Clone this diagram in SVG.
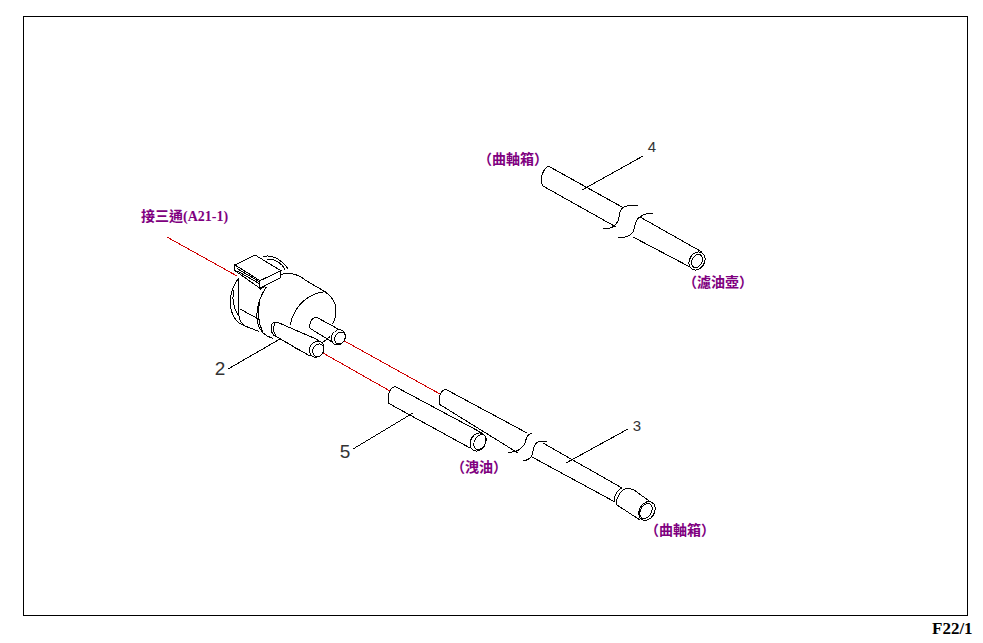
<svg xmlns="http://www.w3.org/2000/svg" width="983" height="643" viewBox="0 0 983 643">
<style>
.l{fill:none;stroke:#000;stroke-width:1;shape-rendering:crispEdges;vector-effect:non-scaling-stroke}
.w{fill:#fff;stroke:#000;stroke-width:1;shape-rendering:crispEdges;vector-effect:non-scaling-stroke}
.r{fill:none;stroke:#d00000;stroke-width:1;shape-rendering:crispEdges}
.p{font-family:"Liberation Serif","Noto Sans CJK TC",serif;font-weight:bold;font-size:14px;fill:#800080}
.n{font-family:"Liberation Sans",sans-serif;font-size:15px;fill:#333;text-anchor:middle}
.b{font-size:19px}
</style>
<rect width="983" height="643" fill="#fff"/>
<rect id="frame" class="l" x="23.5" y="16.5" width="944" height="599"/>
<g id="connectors">
<path class="r" d="M167 237L237 276M339 338L440 394M316 349L390 391"/>
<path class="l" d="M228 369L287 335M353 449L413 413M566 463L628 429M582 190L643 156"/>
</g>
<g id="part-2">
<g transform="translate(210 240) scale(.3333)">
<path class="l" d="M160 50C185 42 215 58 235 88M172 58C195 55 215 70 225 88"/>
<path class="l" d="M205 108C225 95 260 98 285 120L345 155C365 168 378 190 378 212C378 228 375 240 368 252"/>
<path class="l" d="M345 155C300 160 255 190 240 255"/>
<path class="l" d="M150 148C165 140 185 120 205 108M170 140C148 170 135 215 143 250C148 272 165 288 190 296"/>
<path class="l" d="M150 178C142 215 145 250 158 275"/>
<path class="l" d="M85 115C60 150 55 190 65 215C72 238 85 250 100 256L148 275"/>
<path class="l" d="M72 150C65 175 70 205 85 225M85 115L85 210C85 235 92 250 105 258M90 207L143 236"/>
<path class="l" d="M240 310C252 325 272 335 298 338"/>
<path class="w" d="M75 75L135 45L213 92L150 122Z"/>
<path class="w" d="M75 75L75 92L150 145L150 122ZM150 122L150 145L213 112L213 92Z"/>
<path class="l" d="M80 85L148 125M80 92L148 131"/>
<path class="w" d="M320 232C305 232 296 250 300 265L365 305L390 270Z"/>
<path class="w" d="M186 252C180 262 184 280 192 286L300 348L325 300L205 248C198 245 190 247 186 252Z"/>
<path class="l" d="M195 250C188 262 190 278 198 288M335 310L360 290"/>
<ellipse class="w" cx="385" cy="292" rx="20" ry="24" transform="rotate(30 385 292)"/>
<ellipse class="l" cx="390" cy="294" rx="15" ry="19" transform="rotate(30 390 294)"/>
<ellipse class="w" cx="320" cy="328" rx="21" ry="25" transform="rotate(30 320 328)"/>
<ellipse class="l" cx="325" cy="331" rx="16" ry="20" transform="rotate(30 325 331)"/>
</g>
<text class="n b" x="220" y="375">2</text>
</g>
<g id="part-3">
<path class="l" d="M447 390C443 388 439 394 439 400C439 402 439 403 439 404L518 453M447 390L527 433"/>
<path class="l" d="M508 452C516 453 521 449 524 445C527 440 525 435 532 433"/>
<path class="l" d="M523 461C527 460 531 459 532 455C534 450 533 444 538 442C541 441 544 442 547 442"/>
<path class="l" d="M543 443L622 488M532 457L615 502"/>
<path class="l" d="M622 488C617 490 613 498 615 502M625 489C620 491 615 500 617 505"/>
<path class="l" d="M625 489C628 488 632 489 634 490L652 503M617 505L640 520"/>
<ellipse class="w" cx="647" cy="511" rx="7.500" ry="10" transform="rotate(30 647 511)"/>
<ellipse class="l" cx="646" cy="511" rx="5.500" ry="8" transform="rotate(30 646 511)"/>
<text class="n" x="637" y="431">3</text>
</g>
<g id="part-4">
<path class="l" d="M550 167C546 165 541 174 541 180C541 183 542 185 543 186L616 227M550 167L622 207"/>
<path class="l" d="M603 229C611 229 616 226 618 221C620 215 619 209 624 207C628 205 633 205 638 205"/>
<path class="l" d="M618 238C624 238 630 236 633 232C636 226 634 220 640 217C644 214 648 213 653 213"/>
<path class="l" d="M640 217L702 252M633 237L690 267"/>
<ellipse class="w" cx="697" cy="261" rx="7.500" ry="9.500" transform="rotate(30 697 261)"/>
<ellipse class="l" cx="697" cy="261" rx="5" ry="7" transform="rotate(30 697 261)"/>
<text class="n" x="652" y="152">4</text>
</g>
<g id="part-5">
<path class="l" d="M396 387C392 385 388 393 388 398C388 400 388 402 388 403L470 448M396 387L482 433"/>
<ellipse class="w" cx="478" cy="442" rx="7.500" ry="9.500" transform="rotate(30 478 442)"/>
<ellipse class="l" cx="480" cy="442" rx="5.500" ry="8" transform="rotate(30 480 442)"/>
<text class="n b" x="345" y="458">5</text>
</g>
<g id="labels">
<text class="p" x="141" y="221">接三通(A21-1)</text>
<text class="p" x="478" y="164">（曲軸箱）</text>
<text class="p" x="683" y="287">（濾油壺）</text>
<text class="p" x="451" y="472">（洩油）</text>
<text class="p" x="645" y="535">（曲軸箱）</text>
<text x="932" y="634" font-family="Liberation Serif,serif" font-weight="bold" font-size="17" fill="#000">F22/1</text>
</g>
</svg>
